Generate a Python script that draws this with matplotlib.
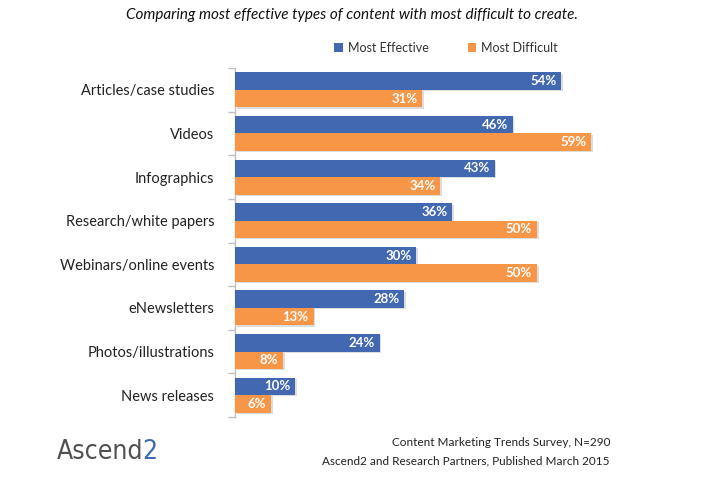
import matplotlib
matplotlib.use("Agg")
import matplotlib.pyplot as plt
import numpy as np

categories = ["Articles/case studies", "Videos", "Infographics", "Research/white papers",
              "Webinars/online events", "eNewsletters", "Photos/illustrations", "News releases"]
most_effective = [54, 46, 43, 36, 30, 28, 24, 10]
most_difficult = [31, 59, 34, 50, 50, 13, 8, 6]
series_names = ["Most Effective", "Most Difficult"]

BLUE = "#4168B0"
ORANGE = "#F79646"
FONT = "Lato"

W, H = 711, 478
fig = plt.figure(figsize=(W / 100, H / 100), dpi=100)
ax = fig.add_axes([235 / W, 1 - 417 / H, 430 / W, (417 - 68) / H])

n = len(categories)
y = np.arange(n)
bh = 0.4
ax.barh(y - bh / 2, most_effective, height=bh, color=BLUE, label=series_names[0], zorder=3)
ax.barh(y + bh / 2, most_difficult, height=bh, color=ORANGE, label=series_names[1], zorder=3)
# subtle shadows
ax.barh(y - bh / 2 + 0.03, most_effective, height=bh, left=0.25, color="#DDDDDD", zorder=2)
ax.barh(y + bh / 2 + 0.03, most_difficult, height=bh, left=0.25, color="#DDDDDD", zorder=2)

ax.set_ylim(n - 0.5, -0.5)
ax.set_xlim(0, 430 / 6.04)

for i in range(n):
    ax.text(most_effective[i] - 0.8, y[i] - bh / 2, f"{most_effective[i]}%", ha="right", va="center",
            color="white", fontsize=9.5, fontweight="bold", family=FONT, zorder=4)
    ax.text(most_difficult[i] - 0.8, y[i] + bh / 2, f"{most_difficult[i]}%", ha="right", va="center",
            color="white", fontsize=9.5, fontweight="bold", family=FONT, zorder=4)

ax.set_yticks(y)
ax.set_yticklabels(categories, fontsize=10.5, family=FONT, color="#222222")
ax.tick_params(axis="y", length=0, pad=15)
ax.set_yticks(np.arange(-0.5, n, 1.0), minor=True)
ax.tick_params(axis="y", which="minor", length=5, color="#BFBFBF", width=1)
ax.set_xticks([])
for s in ["top", "right", "bottom"]:
    ax.spines[s].set_visible(False)
ax.spines["left"].set_color("#BFBFBF")
ax.spines["left"].set_linewidth(1)

fig.text(352 / W, 1 - 15 / H, "Comparing most effective types of content with most difficult to create.",
         ha="center", va="center", fontsize=11, style="italic", family=FONT, color="#111111")

leg = fig.legend(loc="center", bbox_to_anchor=(446 / W, 1 - 48 / H), ncol=2, frameon=False,
                 prop={"family": FONT, "size": 9}, handlelength=0.7, handleheight=0.7,
                 columnspacing=3.1, handletextpad=0.4)
for t in leg.get_texts():
    t.set_color("#333333")

fig.text(610 / W, 1 - 443 / H, "Content Marketing Trends Survey, N=290", ha="right", va="center",
         fontsize=8.5, family=FONT, color="#222222")
fig.text(610 / W, 1 - 461 / H, "Ascend2 and Research Partners, Published March 2015", ha="right", va="center",
         fontsize=8.5, family=FONT, color="#222222")

t1 = fig.text(57 / W, 1 - 452 / H, "Ascend", ha="left", va="center", fontsize=19,
              family="DejaVu Sans", fontstretch="condensed", color="#505050")
fig.canvas.draw()
bb = t1.get_window_extent()
fig.text((bb.x1 - 1) / W, 1 - 452 / H, "2", ha="left", va="center", fontsize=19,
         family="DejaVu Sans", fontstretch="condensed", color="#3D6BB3")

fig.savefig("out.png", dpi=100)
